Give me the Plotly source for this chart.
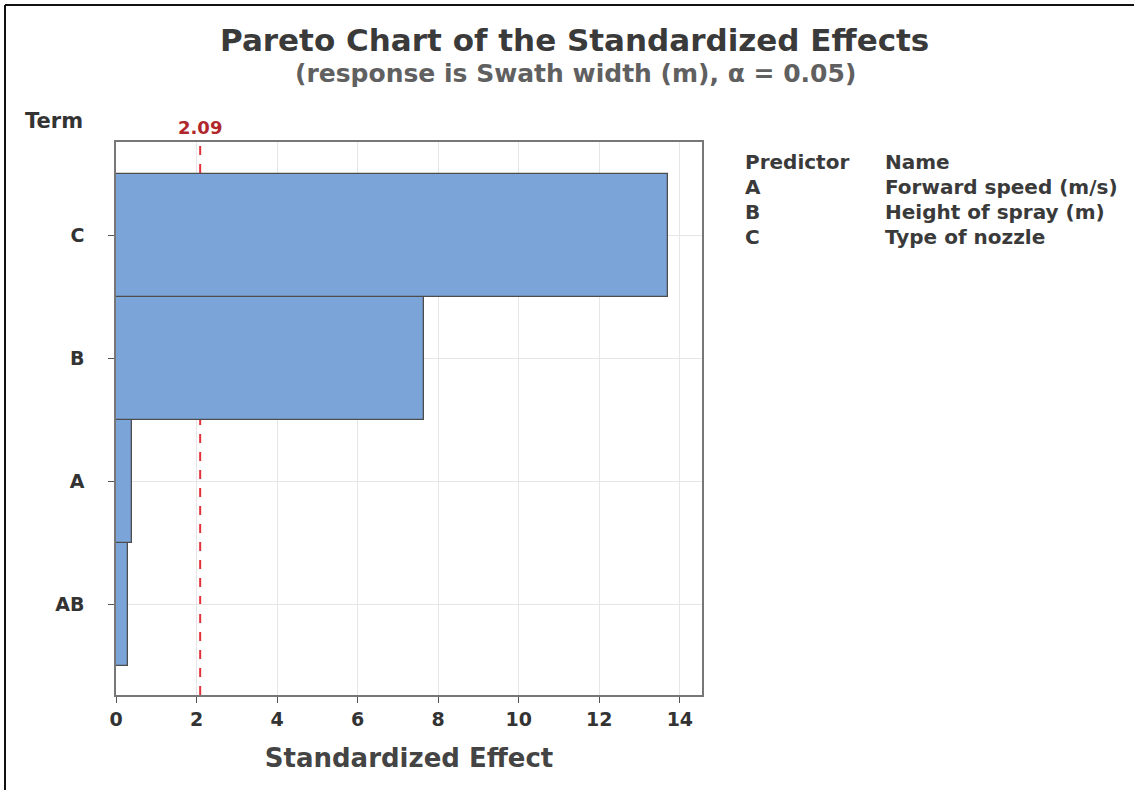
import plotly.graph_objects as go

terms = ["AB", "A", "B", "C"]
effects = [0.30, 0.40, 7.65, 13.7]
critical = 2.09
x_ticks = [0, 2, 4, 6, 8, 10, 12, 14]
predictors = ["A", "B", "C"]
names = ["Forward speed (m/s)", "Height of spray (m)", "Type of nozzle"]

W, H = 1134, 790
L, R, T, B = 116, 432, 142, 95
FONT = "DejaVu Sans"

fig = go.Figure()
fig.add_trace(go.Bar(
    x=effects, y=list(range(len(terms))), orientation="h",
    width=1.0,
    marker=dict(color="#7BA5D8", line=dict(color="#4d4d4d", width=1.3)),
    showlegend=False, hoverinfo="skip",
))
fig.add_shape(type="line", xref="x", yref="y", x0=critical, x1=critical,
              y0=-0.74, y1=3.76, layer="below",
              line=dict(color="#E0303A", width=2, dash="dash"))

fig.update_layout(
    width=W, height=H,
    margin=dict(l=L, r=R, t=T, b=B),
    plot_bgcolor="white", paper_bgcolor="white",
    font=dict(family=FONT, color="#333333"),
    bargap=0,
    xaxis=dict(range=[0, 14.55], tickvals=x_ticks, ticktext=["<b>%d</b>" % v for v in x_ticks],
               ticks="outside", ticklen=6,
               tickcolor="#555", showgrid=True, gridcolor="#e6e6e6", zeroline=False,
               showline=True, linecolor="#777", linewidth=1.5, mirror=True,
               tickfont=dict(size=19, color="#333", family=FONT),
               title=dict(text="<b>Standardized Effect</b>", font=dict(size=26, color="#444", family=FONT), standoff=20)),
    yaxis=dict(range=[-0.74, 3.76], tickvals=list(range(len(terms))),
               ticktext=["<b>%s</b>" % t for t in terms],
               ticks="outside", ticklen=6, tickcolor="#555", showgrid=True,
               gridcolor="#e6e6e6", zeroline=False, showline=True, linecolor="#777",
               linewidth=1.5, mirror=True, ticklabelstandoff=20,
               tickfont=dict(size=19, color="#333", family=FONT)),
)


def px_x(p):
    return (p - L) / (W - L - R)


def px_y(p):
    return 1 - (p - T) / (H - T - B)


ann = []
ann.append(dict(text="<b>Pareto Chart of the Standardized Effects</b>", x=px_x(574), y=px_y(40),
                font=dict(size=31, color="#3a3a3a")))
ann.append(dict(text="<b>(response is Swath width (m), α = 0.05)</b>", x=px_x(575), y=px_y(73),
                font=dict(size=25, color="#606060")))
ann.append(dict(text="<b>Term</b>", x=px_x(54), y=px_y(121), font=dict(size=21, color="#333")))
ann.append(dict(text="<b>%.2f</b>" % critical, x=critical, xref="x", y=px_y(127),
                font=dict(size=18, color="#B0262B")))
ann.append(dict(text="<b>Predictor</b>", x=px_x(743), y=px_y(162), xanchor="left",
                font=dict(size=20, color="#3a3a3a")))
ann.append(dict(text="<b>Name</b>", x=px_x(883), y=px_y(162), xanchor="left",
                font=dict(size=20, color="#3a3a3a")))
for i, (p, n) in enumerate(zip(predictors, names)):
    yy = 187 + i * 25
    ann.append(dict(text="<b>%s</b>" % p, x=px_x(743), y=px_y(yy), xanchor="left",
                    font=dict(size=20, color="#3a3a3a")))
    ann.append(dict(text="<b>%s</b>" % n, x=px_x(883), y=px_y(yy), xanchor="left",
                    font=dict(size=20, color="#3a3a3a")))

for a in ann:
    a.setdefault("xref", "paper")
    a.setdefault("yref", "paper")
    a.setdefault("xanchor", "center")
    a["yanchor"] = "middle"
    a["showarrow"] = False
    fig.add_annotation(**a)

# outer frame lines of the image (top and left)
fig.add_shape(type="line", xref="paper", yref="paper",
              x0=px_x(5), x1=px_x(W + 2), y0=px_y(5), y1=px_y(5),
              line=dict(color="#111", width=2), layer="below")
fig.add_shape(type="line", xref="paper", yref="paper",
              x0=px_x(5), x1=px_x(5), y0=px_y(5), y1=px_y(H + 2),
              line=dict(color="#111", width=2), layer="below")

fig.write_html("out.html", config={"displayModeBar": False},
               post_script="document.body.style.margin='0px';")
